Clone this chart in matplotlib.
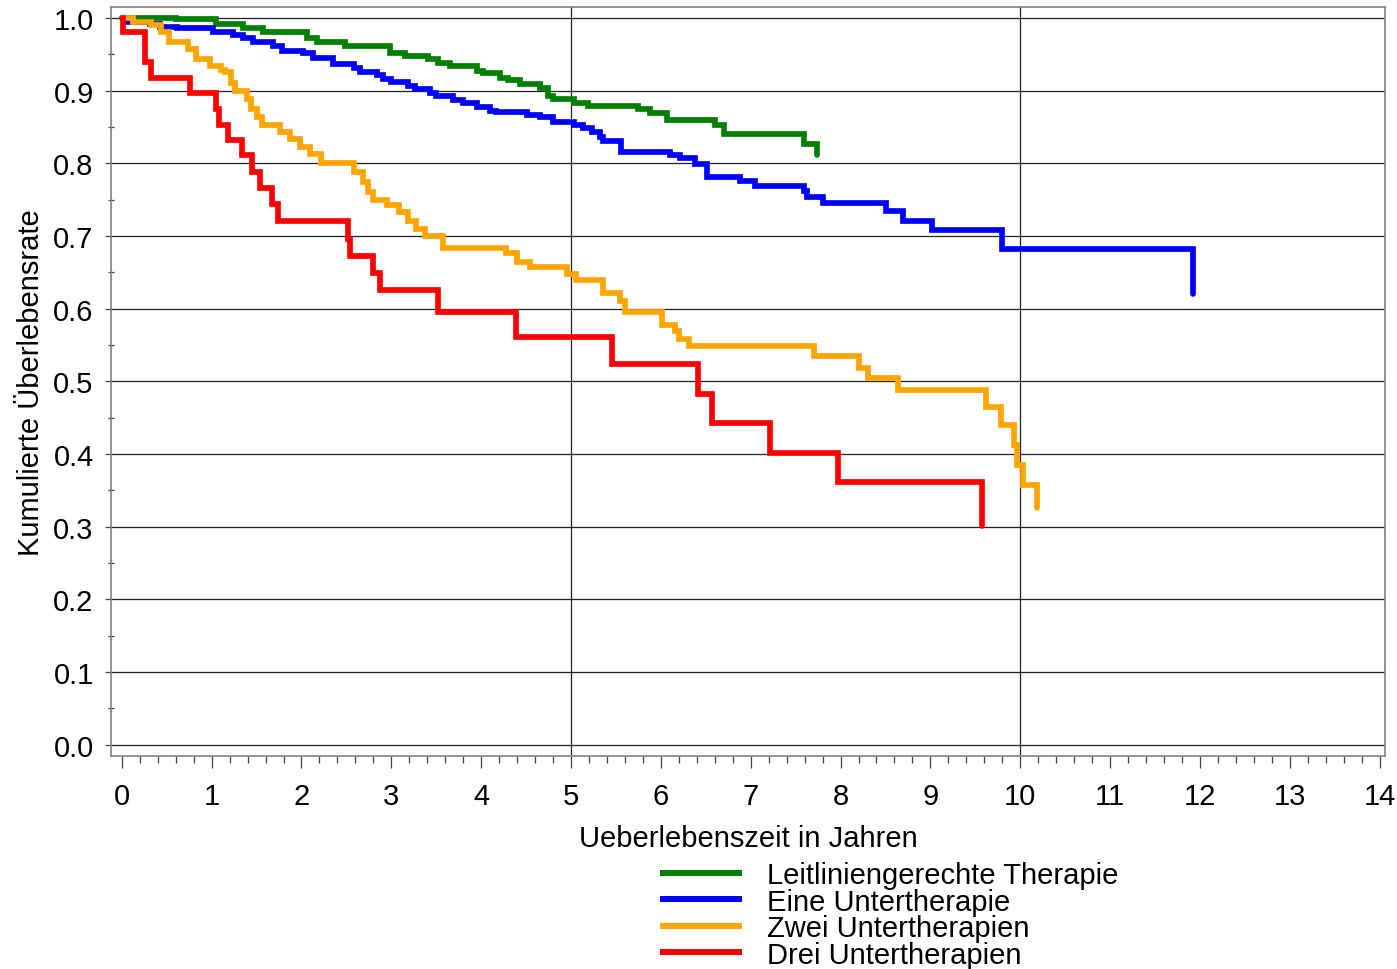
# Kaplan-Meier Kurven: kumulierte Ueberlebensrate nach Therapiegruppe
import matplotlib
matplotlib.use("Agg")
import matplotlib.pyplot as plt
from matplotlib.ticker import MultipleLocator

plt.rcParams['font.family'] = ['Liberation Sans', 'DejaVu Sans']

# event times (years) and survival after each event
t_leit = [0, 0.60, 1.05, 1.35, 1.57, 2.06, 2.17, 2.48, 2.98, 3.15, 3.41, 3.52, 3.65,
          3.95, 4.02, 4.21, 4.30, 4.43, 4.65, 4.74, 4.80, 5.03, 5.19, 5.75, 5.88,
          6.07, 6.60, 6.70, 7.59, 7.74]
s_leit = [1.0, 0.998, 0.992, 0.986, 0.980, 0.973, 0.967, 0.961, 0.952, 0.948, 0.943,
          0.938, 0.934, 0.927, 0.924, 0.918, 0.914, 0.909, 0.903, 0.893, 0.889, 0.883,
          0.879, 0.874, 0.869, 0.860, 0.852, 0.840, 0.826, 0.811]

t_eine = [0, 0.02, 0.31, 0.42, 0.61, 1.02, 1.24, 1.35, 1.46, 1.68, 1.78, 2.02, 2.13,
          2.35, 2.58, 2.65, 2.84, 2.91, 3.00, 3.19, 3.26, 3.43, 3.50, 3.69, 3.80,
          3.95, 4.10, 4.17, 4.51, 4.65, 4.80, 5.03, 5.13, 5.23, 5.32, 5.36, 5.56,
          6.10, 6.21, 6.38, 6.51, 6.88, 7.05, 7.59, 7.63, 7.80, 8.51, 8.69, 9.02,
          9.80, 11.92]
s_eine = [1.0, 0.994, 0.991, 0.988, 0.986, 0.980, 0.977, 0.972, 0.967, 0.962, 0.954,
          0.952, 0.945, 0.937, 0.931, 0.925, 0.921, 0.916, 0.912, 0.906, 0.902, 0.897,
          0.892, 0.887, 0.883, 0.878, 0.872, 0.870, 0.867, 0.863, 0.857, 0.852, 0.848,
          0.843, 0.836, 0.831, 0.815, 0.811, 0.807, 0.799, 0.781, 0.776, 0.769, 0.762,
          0.753, 0.745, 0.734, 0.721, 0.708, 0.682, 0.620]

t_zwei = [0, 0.12, 0.33, 0.44, 0.52, 0.74, 0.83, 0.98, 1.10, 1.15, 1.22, 1.26, 1.39,
          1.44, 1.50, 1.56, 1.76, 1.87, 1.98, 2.09, 2.22, 2.58, 2.69, 2.74, 2.80,
          2.95, 3.08, 3.19, 3.28, 3.37, 3.58, 4.28, 4.40, 4.54, 4.95, 5.06, 5.36,
          5.55, 5.60, 6.01, 6.16, 6.20, 6.31, 7.70, 8.20, 8.31, 8.64, 9.62, 9.785,
          9.93, 9.96, 10.03, 10.19]
s_zwei = [1.0, 0.995, 0.990, 0.980, 0.967, 0.957, 0.944, 0.934, 0.929, 0.925, 0.911,
          0.900, 0.889, 0.875, 0.863, 0.852, 0.843, 0.833, 0.822, 0.813, 0.801, 0.788,
          0.774, 0.760, 0.749, 0.742, 0.733, 0.721, 0.710, 0.700, 0.684, 0.677, 0.664,
          0.657, 0.648, 0.639, 0.622, 0.611, 0.596, 0.578, 0.569, 0.558, 0.548, 0.535,
          0.519, 0.505, 0.488, 0.465, 0.440, 0.412, 0.385, 0.357, 0.326]

t_drei = [0, 0.01, 0.256, 0.32, 0.757, 1.054, 1.08, 1.177, 1.333, 1.444, 1.537, 1.674,
          1.741, 2.52, 2.54, 2.80, 2.873, 3.522, 4.388, 5.453, 6.418, 6.574, 7.216,
          7.976, 9.58]
s_drei = [1.0, 0.980, 0.939, 0.917, 0.896, 0.875, 0.853, 0.832, 0.811, 0.788, 0.766,
          0.744, 0.721, 0.696, 0.673, 0.649, 0.625, 0.596, 0.561, 0.524, 0.483, 0.442,
          0.402, 0.362, 0.301]

labels = ["Leitliniengerechte Therapie", "Eine Untertherapie",
          "Zwei Untertherapien", "Drei Untertherapien"]
colors = ["#008000", "#0000ff", "#ffa500", "#ff0000"]

fs = 21
fig = plt.figure(figsize=(13.97, 9.70), dpi=100)
ax = fig.add_axes([111 / 1397, 1 - 757 / 970, 1274 / 1397, 749 / 970])

# grid first so the curves sit on top
for yv in [i / 10 for i in range(11)]:
    ax.axhline(yv, color="#222222", lw=0.9, zorder=1)
for xv in [5, 10]:
    ax.axvline(xv, color="#222222", lw=0.9, zorder=1)

series = [(t_leit, s_leit), (t_eine, s_eine), (t_zwei, s_zwei), (t_drei, s_drei)]
for (t, s), c, lab in zip(series, colors, labels):
    ax.step(t, s, where="post", color=c, lw=4.1, label=lab, zorder=3,
            solid_capstyle="round", solid_joinstyle="miter")

ax.set_xlim(-0.12, 14.06)
ax.set_ylim(-0.0155, 1.015)
ax.xaxis.set_major_locator(MultipleLocator(1))
ax.xaxis.set_minor_locator(MultipleLocator(0.2))
ax.yaxis.set_major_locator(MultipleLocator(0.1))
ax.yaxis.set_minor_locator(MultipleLocator(0.05))
ax.xaxis.set_major_formatter(plt.FuncFormatter(lambda v, p: "%d" % v))
ax.yaxis.set_major_formatter(plt.FuncFormatter(lambda v, p: "%.1f" % v))

for sp in ax.spines.values():
    sp.set_color("#808080")
    sp.set_linewidth(1.2)

ax.tick_params(axis="x", which="major", direction="out", length=8.5, width=0.9,
               color="#404040", labelsize=fs, pad=10)
ax.tick_params(axis="x", which="minor", direction="out", length=5, width=0.9,
               color="#404040")
ax.tick_params(axis="y", which="major", direction="out", length=4.5, width=0.9,
               color="#404040", labelsize=fs, pad=8)
ax.tick_params(axis="y", which="minor", direction="inout", length=5, width=0.9,
               color="#404040")

ax.set_xlabel("Ueberlebenszeit in Jahren", fontsize=fs, labelpad=10)
ax.set_ylabel("Kumulierte Überlebensrate", fontsize=fs, labelpad=6)

handles, labs = ax.get_legend_handles_labels()
leg = fig.legend(handles, labs, loc="upper left",
                 bbox_to_anchor=(660 / 1397, 1 - 862 / 970),
                 frameon=False, fontsize=fs, borderpad=0, borderaxespad=0,
                 labelspacing=-0.05, handlelength=2.8, handletextpad=0.86)
for ln in leg.get_lines():
    ln.set_linewidth(4.3)
    ln.set_solid_capstyle("butt")

fig.savefig("out.png", dpi=100)
